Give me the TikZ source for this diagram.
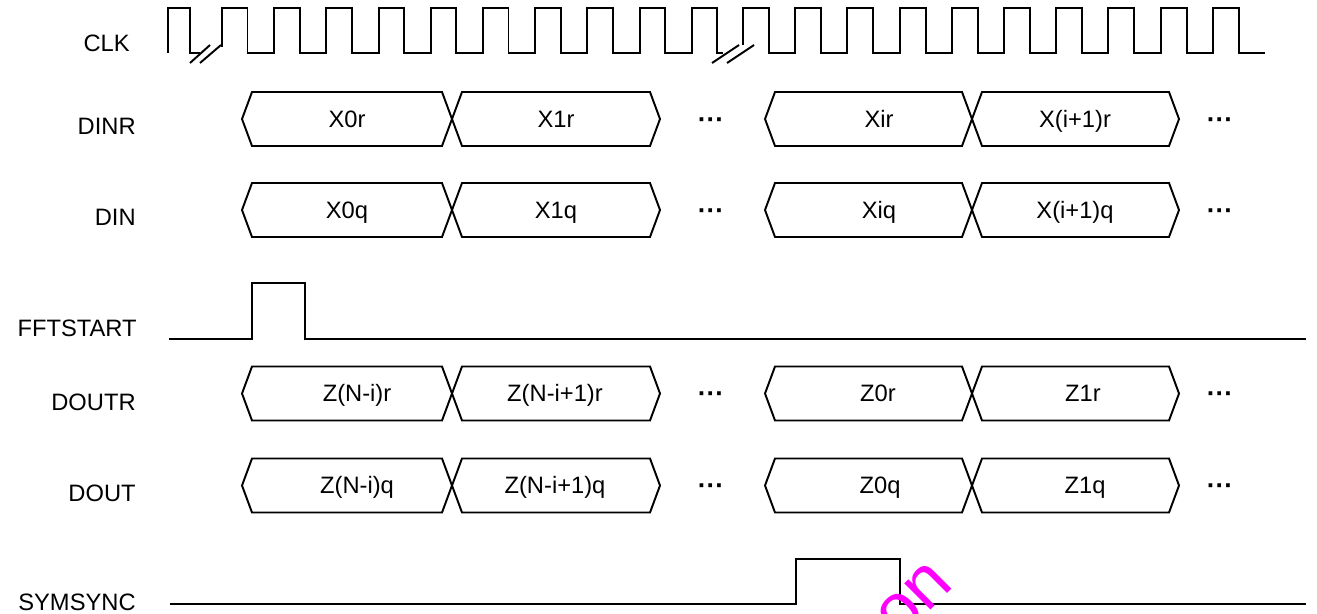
\documentclass[tikz,border=0pt]{standalone}
\usepackage{fontspec}
\setmainfont{Liberation Sans}
\definecolor{wmpink}{RGB}{255,0,255}
\tikzset{wave/.style={line width=1.1pt,line join=miter},
	bus/.style={line width=1.1pt,line join=miter},
	sig/.style={font=\fontsize{13.5}{15}\selectfont,inner sep=0pt,text height=9.6pt,text depth=0pt},
	lbl/.style={sig,anchor=east},
	busdots/.style={font=\fontsize{15}{17}\selectfont\bfseries,inner sep=0pt},
	wmark/.style={font=\fontsize{40}{42}\selectfont,text=wmpink,rotate=45,inner sep=0pt}}
% one data cell of a bus: left end, right end, middle height
\newcommand{\hexbus}[3]{%
	\draw[bus] (#1,#3) -- ({#1+10},{#3-27}) -- ({#2-10},{#3-27}) -- (#2,#3) -- ({#2-10},{#3+27}) -- ({#1+10},{#3+27}) -- cycle;}
\begin{document}
\begin{tikzpicture}[x=0.02cm,y=-0.02cm]
		\useasboundingbox (0,0) rectangle (1317,613);
		% signal names
		\begin{scope}[every node/.style={lbl}]
			\node (clk) at (130,43) {CLK};
			\node (dinr) at (136,126) {DINR};
			\node (din) at (136,217) {DIN};
			\node (fftstart) at (137,328) {FFTSTART};
			\node (doutr) at (136,402) {DOUTR};
			\node (dout) at (136,493) {DOUT};
			\node (symsync) at (136,602) {SYMSYNC};
		\end{scope}
		% clock with two breaks
		\draw[wave] (168,53) -- (168,8) -- (190,8) -- (190,53) -- (200,53);
		\draw[wave] (190,63) -- (210,45) (200,63) -- (221,45);
		\draw[wave] (222,47) -- (222,8) -- (247.5,8) -- (247.5,53)
			foreach \k in {1,...,9} { -- ({222+52.2*\k},53) -- ({222+52.2*\k},8) -- ({247.5+52.2*\k},8) -- ({247.5+52.2*\k},53) }
			-- (723,53);
		\draw[wave] (712,63) -- (739,45) (727,63) -- (754,45);
		\draw[wave] (743,45) -- (743,8) -- (769,8) -- (769,53)
			foreach \k in {1,...,9} { -- ({743+52.2*\k},53) -- ({743+52.2*\k},8) -- ({769+52.2*\k},8) -- ({769+52.2*\k},53) }
			-- (1265,53);
		% buses
		\foreach \y in {119,210,393.5,485.5} {
			\hexbus{242}{452}{\y}
			\hexbus{452}{660}{\y}
			\hexbus{765}{972}{\y}
			\hexbus{972}{1179}{\y}
		}
		\begin{scope}[every node/.style={sig}]
			\node (x0r) at (347,119) {X0r};
			\node (x1r) at (556,119) {X1r};
			\node (xir) at (879,119) {Xir};
			\node (xi1r) at (1075,119) {X(i+1)r};
			\node (x0q) at (347,210) {X0q};
			\node (x1q) at (556,210) {X1q};
			\node (xiq) at (879,210) {Xiq};
			\node (xi1q) at (1075,210) {X(i+1)q};
			\node (znir) at (357,393.5) {Z(N-i)r};
			\node (zni1r) at (555,393.5) {Z(N-i+1)r};
			\node (z0r) at (878,393.5) {Z0r};
			\node (z1r) at (1083,393.5) {Z1r};
			\node (zniq) at (357,485.5) {Z(N-i)q};
			\node (zni1q) at (555,485.5) {Z(N-i+1)q};
			\node (z0q) at (880,485.5) {Z0q};
			\node (z1q) at (1085,485.5) {Z1q};
		\end{scope}
		\foreach \y/\n in {119/dinr,210/din,393.5/doutr,485.5/dout} {
			\node[busdots] (\n dotsa) at (711,\y+4) {···};
			\node[busdots] (\n dotsb) at (1220,\y+4) {···};
		}
		% start and sync pulses
		\draw[wave] (169,339) -- (252,339) -- (252,283) -- (305,283) -- (305,339) -- (1306,339);
		\draw[wave] (170,604) -- (796,604) -- (796,559) -- (900,559) -- (900,604) -- (1306,604);
		\node[wmark] (wm) at (914,600) {on};
	\end{tikzpicture}
\end{document}
